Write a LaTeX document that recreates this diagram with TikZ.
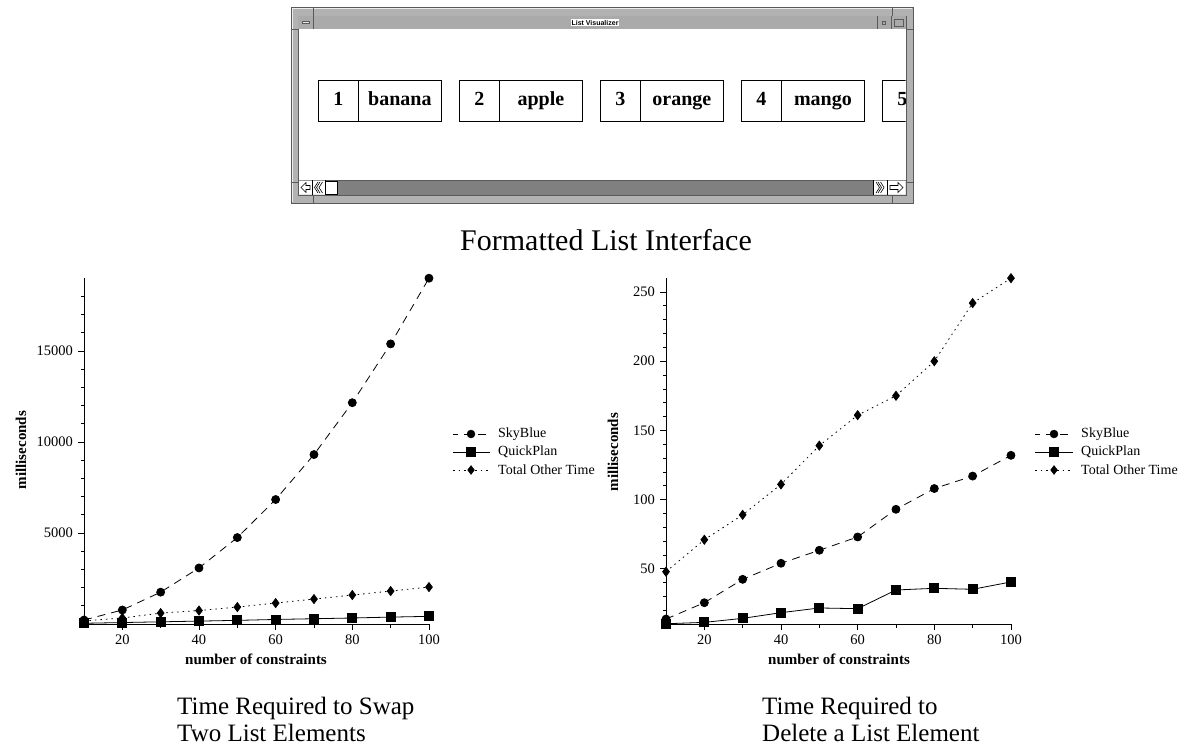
\documentclass[tikz,border=0pt]{standalone}
\usepackage{fontspec}
\setmainfont{Liberation Serif}
\newfontfamily\winsans{Liberation Sans}
\usetikzlibrary{plotmarks}
\definecolor{wframe}{RGB}{178,178,178}
\definecolor{wtitle}{RGB}{170,170,170}
\definecolor{wtrough}{RGB}{128,128,128}
\definecolor{wdark}{RGB}{90,90,90}
\begin{document}
\begin{tikzpicture}[x=1pt,y=-1pt,
  capt/.style={font=\fontsize{25}{27}\selectfont, align=left, anchor=base west, inner sep=0},
  ticklbl/.style={font=\fontsize{14.5}{16}\selectfont, inner sep=0},
  axlbl/.style={font=\fontsize{15}{17}\selectfont\bfseries, inner sep=0},
  leg/.style={font=\fontsize{14}{16}\selectfont, anchor=west, inner sep=0},
  cell/.style={draw=black, line width=0.8pt, minimum height=41pt, inner sep=0, anchor=north west, text height=13.5pt, text depth=4.5pt, font=\fontsize{20}{24}\selectfont\bfseries},
  axis/.style={line width=0.9pt},
  tick/.style={line width=0.7pt},
  sky/.style={line width=0.8pt, dash pattern=on 8pt off 6pt},
  qp/.style={line width=0.8pt},
  tot/.style={line width=0.8pt, dash pattern=on 1.5pt off 4pt},
  mcirc/.style={mark=*, mark size=4pt, mark options={solid}},
  msq/.style={mark=square*, mark size=4.5pt, mark options={solid}},
  mdia/.style={mark=diamond*, mark size=4.5pt, mark options={solid}},
]
\useasboundingbox (0,0) rectangle (1185,752);
\fill[white] (0,0) rectangle (1185,752);

% ---------------- window ----------------
\fill[wframe] (291,7) rectangle (913,203);
\draw[wdark] (291,7) rectangle (913,203);
\draw[white!85!gray] (292,8) -- (912,8) (292,8) -- (292,202);
\draw[wdark] (298,16) -- (906,16) -- (906,195) -- (298,195) -- cycle;
% title bar
\fill[wtitle] (298,16) rectangle (906,29);
\draw[wdark] (298,29) -- (906,29);
\draw[wdark] (313,16) -- (313,29) (877,16) -- (877,29) (891,16) -- (891,29);
\fill[white!80!gray] (302,21.5) rectangle (309,23.5);
\draw[wdark] (302,21.5) rectangle (309,23.5);
\draw[wdark] (882,21) rectangle (885,24);
\draw[wdark] (894,19) rectangle (903,26);
\node[fill=white, inner sep=1pt, font=\winsans\bfseries\fontsize{7}{8}\selectfont] (title) at (595,22.5) {List Visualizer};
% corner marks
\draw[wdark] (313,7) -- (313,16) (892,7) -- (892,16) (313,195) -- (313,203) (892,195) -- (892,203)
  (291,29) -- (298,29) (906,29) -- (913,29) (291,182) -- (298,182) (906,182) -- (913,182);
% content
\fill[white] (298.5,29.5) rectangle (905.5,180);
% list boxes
\begin{scope}
\clip (298.5,29.5) rectangle (905.5,180);
\node[cell, minimum width=40pt] (n1) at (318,80) {1};
\node[cell, minimum width=83pt] (e1) at (358,80) {banana};
\node[cell, minimum width=40pt] (n2) at (459,80) {2};
\node[cell, minimum width=83pt] (e2) at (499,80) {apple};
\node[cell, minimum width=40pt] (n3) at (600,80) {3};
\node[cell, minimum width=83pt] (e3) at (640,80) {orange};
\node[cell, minimum width=40pt] (n4) at (741,80) {4};
\node[cell, minimum width=83pt] (e4) at (781,80) {mango};
\node[cell, minimum width=40pt] (n5) at (882,80) {5};
\end{scope}
% scrollbar
\fill[wtrough] (337,180) rectangle (873,195);
\draw[wdark] (298,180) -- (906,180);
\fill[white] (299,180.5) rectangle (312,194.5) (312,180.5) rectangle (325,194.5) (325,181) rectangle (337,194) (873,180.5) rectangle (887,194.5) (887,180.5) rectangle (905.5,194.5);
\draw[black] (312,180) -- (312,195) (325,180) -- (325,195) (873,180) -- (873,195) (887,180) -- (887,195);
\draw[black] (325.5,181) rectangle (337,194);
\draw[black, line width=0.6pt] (301,187.5) -- (306,182.5) -- (306,185.5) -- (310,185.5) -- (310,189.5) -- (306,189.5) -- (306,192.5) -- cycle;
\draw[black, line width=0.6pt] (903,187.5) -- (898,182.5) -- (898,185.5) -- (890,185.5) -- (890,189.5) -- (898,189.5) -- (898,192.5) -- cycle;
\draw[black, line width=0.6pt] (318,182) -- (314.5,187.5) -- (318,193) (320,182) -- (316.5,187.5) -- (320,193)
  (322.5,182) -- (319,187.5) -- (322.5,193);
\draw[black, line width=0.6pt] (876,182) -- (879.5,187.5) -- (876,193) (878,182) -- (881.5,187.5) -- (878,193)
  (880.5,182) -- (884,187.5) -- (880.5,193);

\node[font=\fontsize{30}{33}\selectfont, anchor=base, inner sep=0] (cap0) at (606,250) {Formatted List Interface};

% ---------------- left chart ----------------
\begin{scope}[shift={(45.67,624)}, x=3.833pt, y=18.2pt]
  \draw[axis] (10,19) -- (10,0) -- (100,0);
  \foreach \m in {1,...,18} \draw[tick] (10,\m) -- ++(-3pt,0);
  \foreach \m/\t in {5/5000,10/10000,15/15000} {
    \draw[tick] (10,\m) -- ++(-6pt,0);
    \path (10,\m) ++(-11pt,0) node[ticklbl, anchor=east] {\t};
  }
  \foreach \v in {30,50,70,90} \draw[tick] (\v,0) -- ++(0,-3.5pt);
  \foreach \v in {20,40,...,100} {
    \draw[tick] (\v,0) -- ++(0,-6pt);
    \path (\v,0) ++(0,-16pt) node[ticklbl] {\v};
  }
  \draw[sky, mcirc] plot coordinates {(10,0.22) (20,0.77) (30,1.75) (40,3.08) (50,4.75) (60,6.84) (70,9.31) (80,12.16) (90,15.39) (100,19.0)};
  \draw[tot, mdia] plot coordinates {(10,0.17) (20,0.33) (30,0.6) (40,0.74) (50,0.93) (60,1.15) (70,1.37) (80,1.59) (90,1.81) (100,2.03)};
  \draw[qp, msq] plot coordinates {(10,0.04) (20,0.08) (30,0.12) (40,0.16) (50,0.2) (60,0.25) (70,0.29) (80,0.33) (90,0.38) (100,0.42)};
\end{scope}
\node[axlbl, rotate=90] (ylL) at (21,450) {milliseconds};
\node[axlbl] (xlL) at (256,659) {number of constraints};
% legend left
\draw[sky, dash phase=3pt] (453,434) -- (490,434);
\draw[mcirc] plot coordinates {(471,434)};
\draw[qp] (453,452) -- (490,452);
\draw[msq] plot coordinates {(471,452)};
\draw[tot] (453,470) -- (490,470);
\draw[mdia] plot coordinates {(471,470)};
\node[leg] (lgL1) at (498,434) {SkyBlue};
\node[leg] (lgL2) at (498,452) {QuickPlan};
\node[leg] (lgL3) at (498,470) {Total Other Time};

% ---------------- right chart ----------------
\begin{scope}[shift={(627.67,638)}, x=3.833pt, y=1.384pt]
  \draw[axis] (10,260) -- (10,10) -- (100,10);
  \foreach \m in {20,30,...,250} \draw[tick] (10,\m) -- ++(-3pt,0);
  \foreach \m in {50,100,...,250} {
    \draw[tick] (10,\m) -- ++(-6pt,0);
    \path (10,\m) ++(-11pt,0) node[ticklbl, anchor=east] {\m};
  }
  \foreach \v in {30,50,70,90} \draw[tick] (\v,10) -- ++(0,-3.5pt);
  \foreach \v in {20,40,...,100} {
    \draw[tick] (\v,10) -- ++(0,-6pt);
    \path (\v,10) ++(0,-16pt) node[ticklbl] {\v};
  }
  \draw[tot, mdia] plot coordinates {(10,47.9) (20,71) (30,89) (40,111) (50,139) (60,161) (70,175) (80,200) (90,242) (100,260)};
  \draw[sky, mcirc] plot coordinates {(10,13.7) (20,25.5) (30,42.4) (40,54) (50,63.4) (60,73) (70,93) (80,108) (90,117) (100,132)};
  \draw[qp, msq] plot coordinates {(10,10.3) (20,11.3) (30,14.2) (40,18.3) (50,21.7) (60,21.2) (70,34.7) (80,35.9) (90,35.2) (100,40.5)};
\end{scope}
\node[axlbl, rotate=90] (ylR) at (613,452) {milliseconds};
\node[axlbl] (xlR) at (839,659) {number of constraints};
% legend right
\draw[sky, dash phase=3pt] (1035,434) -- (1073,434);
\draw[mcirc] plot coordinates {(1054,434)};
\draw[qp] (1035,452) -- (1073,452);
\draw[msq] plot coordinates {(1054,452)};
\draw[tot] (1035,470) -- (1073,470);
\draw[mdia] plot coordinates {(1054,470)};
\node[leg] (lgR1) at (1081,434) {SkyBlue};
\node[leg] (lgR2) at (1081,452) {QuickPlan};
\node[leg] (lgR3) at (1081,470) {Total Other Time};

% captions (anchor = baseline of last line)
\node[capt] (capL) at (177,741) {Time Required to Swap\\Two List Elements};
\node[capt] (capR) at (762,741) {Time Required to\\Delete a List Element};
\end{tikzpicture}
\end{document}
